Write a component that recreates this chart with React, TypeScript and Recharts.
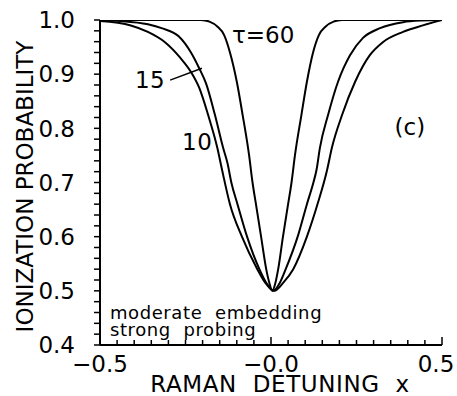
import React from "react"
import { LineChart, Line, XAxis, YAxis, ReferenceDot, ReferenceLine, Label } from "recharts"

// tau = 60 (narrowest dip)
const x60 = [-0.5, -0.3, -0.205, -0.18, -0.157, -0.137, -0.12, -0.1, -0.083, -0.064, -0.054, -0.044, -0.029, -0.014, -0.005, 0.004, 0.013, 0.021, 0.035, 0.05, 0.06, 0.07, 0.089, 0.105, 0.123, 0.14, 0.16, 0.183, 0.208, 0.3, 0.5]
const p60 = [1.0, 1.0, 1.0, 0.997, 0.988, 0.972, 0.94, 0.886, 0.825, 0.75, 0.7, 0.66, 0.6, 0.54, 0.515, 0.5, 0.515, 0.54, 0.6, 0.66, 0.7, 0.75, 0.825, 0.886, 0.94, 0.972, 0.988, 0.997, 1.0, 1.0, 1.0]

// tau = 15
const x15 = [-0.5, -0.44, -0.36, -0.32, -0.27, -0.234, -0.21, -0.19, -0.164, -0.14, -0.127, -0.116, -0.098, -0.07, -0.034, -0.014, 0.007, 0.026, 0.043, 0.078, 0.105, 0.124, 0.133, 0.143, 0.167, 0.196, 0.212, 0.231, 0.269, 0.319, 0.386, 0.44, 0.5]
const p15 = [0.9995, 0.998, 0.992, 0.985, 0.97, 0.94, 0.911, 0.883, 0.825, 0.764, 0.735, 0.7, 0.66, 0.6, 0.54, 0.515, 0.5, 0.515, 0.54, 0.6, 0.66, 0.7, 0.723, 0.764, 0.825, 0.886, 0.911, 0.935, 0.967, 0.985, 0.996, 0.999, 1.0]

// tau = 10 (widest dip)
const x10 = [-0.5, -0.41, -0.36, -0.31, -0.265, -0.234, -0.21, -0.184, -0.157, -0.143, -0.12, -0.085, -0.04, -0.017, 0.01, 0.036, 0.065, 0.105, 0.137, 0.164, 0.178, 0.208, 0.246, 0.289, 0.327, 0.386, 0.444, 0.5]
const p10 = [0.998, 0.99, 0.978, 0.959, 0.93, 0.904, 0.875, 0.825, 0.764, 0.723, 0.66, 0.6, 0.54, 0.515, 0.5, 0.515, 0.54, 0.6, 0.662, 0.723, 0.764, 0.825, 0.886, 0.935, 0.959, 0.978, 0.99, 1.0]

const xTicks = [-0.5, -0.45, -0.4, -0.35, -0.3, -0.25, -0.2, -0.15, -0.1, -0.05, 0, 0.05, 0.1, 0.15, 0.2, 0.25, 0.3, 0.35, 0.4, 0.45, 0.5]
const yTicks = [0.4, 0.42, 0.44, 0.46, 0.48, 0.5, 0.52, 0.54, 0.56, 0.58, 0.6, 0.62, 0.64, 0.66, 0.68, 0.7, 0.72, 0.74, 0.76, 0.78, 0.8, 0.82, 0.84, 0.86, 0.88, 0.9, 0.92, 0.94, 0.96, 0.98, 1.0]

const series = [
  { name: "60", xs: x60, ps: p60 },
  { name: "15", xs: x15, ps: p15 },
  { name: "10", xs: x10, ps: p10 },
]

const notes = [
  { x: -0.114, y: 0.958, text: "τ=60", size: 23, anchor: "start", ls: 0 },
  { x: -0.398, y: 0.875, text: "15", size: 23, anchor: "start", ls: 0.5 },
  { x: -0.26, y: 0.76, text: "10", size: 23, anchor: "start", ls: 0.5 },
  { x: 0.406, y: 0.788, text: "(c)", size: 23, anchor: "middle", ls: 0 },
  { x: -0.471, y: 0.448, text: "moderate  embedding", size: 18, anchor: "start", ls: 0.6 },
  { x: -0.471, y: 0.416, text: "strong  probing", size: 18, anchor: "start", ls: 0.6 },
]

const font = "'DejaVu Sans', sans-serif"

const isMajor = (v: number) => Math.abs(v * 10 - Math.round(v * 10)) < 1e-6

const fmtX = (v: number) => {
  if (Math.abs(v) < 1e-9) return "\u22120.0"
  return v < 0 ? "\u2212" + Math.abs(v).toFixed(1) : v.toFixed(1)
}

const YTick = (p: any) => {
  const v = p.payload.value
  return (
    <g>
      <line x1={p.x} x2={p.x - 6} y1={p.y} y2={p.y} stroke="#000" strokeWidth={1.5} />
      {isMajor(v) && (
        <text x={p.x - 25} y={p.y} dy="0.36em" textAnchor="end" fontSize={23} fontFamily={font} fill="#000">
          {v.toFixed(1)}
        </text>
      )}
    </g>
  )
}

const XTick = (p: any) => {
  const v = p.payload.value
  const major = Math.abs(v * 2 - Math.round(v * 2)) < 1e-6
  return (
    <g>
      <line x1={p.x} x2={p.x} y1={p.y} y2={p.y - (major ? 8 : 5)} stroke="#000" strokeWidth={1.5} />
      {major && (
        <text x={p.x} y={p.y + 27} dx={v > 0.4 ? -6 : 0} textAnchor="middle" fontSize={23} fontFamily={font} fill="#000">
          {fmtX(v)}
        </text>
      )}
    </g>
  )
}

export default function App() {
  return (
    <div style={{ position: "absolute", left: 0, top: 0, width: 457, height: 396, background: "#fff" }}>
      <LineChart width={457} height={396} margin={{ top: 20, right: 15, left: 40, bottom: 21 }}>
        <XAxis
          dataKey="x"
          type="number"
          domain={[-0.5, 0.5]}
          ticks={xTicks}
          interval={0}
          tickSize={0}
          tickMargin={0}
          tickLine={false}
          tick={<XTick />}
          axisLine={{ stroke: "#000", strokeWidth: 2 }}
          height={30}
          allowDataOverflow
        >
          <Label
            content={(p: any) => (
              <text
                x={p.viewBox.x + p.viewBox.width / 2 + 9}
                y={p.viewBox.y + 47}
                textAnchor="middle"
                fontSize={23}
                fontFamily={font}
                letterSpacing={0.6}
                fill="#000"
                style={{ whiteSpace: "pre" }}
              >
                RAMAN  DETUNING  x
              </text>
            )}
          />
        </XAxis>
        <YAxis
          dataKey="p"
          type="number"
          domain={[0.4, 1.0]}
          ticks={yTicks}
          interval={0}
          tickSize={0}
          tickMargin={0}
          tickLine={false}
          tick={<YTick />}
          axisLine={{ stroke: "#000", strokeWidth: 2 }}
          width={60}
          allowDataOverflow
        >
          <Label
            content={(p: any) => (
              <text
                x={p.viewBox.x - 7}
                y={p.viewBox.y + p.viewBox.height / 2 + 4}
                transform={`rotate(-90 ${p.viewBox.x - 7} ${p.viewBox.y + p.viewBox.height / 2 + 4})`}
                textAnchor="middle"
                fontSize={23}
                fontFamily={font}
                fill="#000"
              >
                IONIZATION PROBABILITY
              </text>
            )}
          />
        </YAxis>
        {series.map((s) => (
          <Line
            key={s.name}
            data={s.xs.map((x, i) => ({ x, p: s.ps[i] }))}
            dataKey="p"
            type="monotone"
            stroke="#000"
            strokeWidth={2}
            dot={false}
            isAnimationActive={false}
          />
        ))}
        <ReferenceLine
          segment={[{ x: -0.295, y: 0.889 }, { x: -0.202, y: 0.911 }]}
          stroke="#000"
          strokeWidth={1.5}
          ifOverflow="visible"
        />
        {notes.map((n, i) => (
          <ReferenceDot
            key={i}
            x={n.x}
            y={n.y}
            r={0}
            stroke="none"
            fill="none"
            ifOverflow="visible"
            label={{
              content: (p: any) => (
                <text
                  x={p.viewBox.x}
                  y={p.viewBox.y}
                  textAnchor={n.anchor}
                  fontSize={n.size}
                  fontFamily={font}
                  letterSpacing={n.ls}
                  fill="#000"
                  style={{ whiteSpace: "pre" }}
                >
                  {n.text}
                </text>
              ),
            }}
          />
        ))}
      </LineChart>
    </div>
  )
}
